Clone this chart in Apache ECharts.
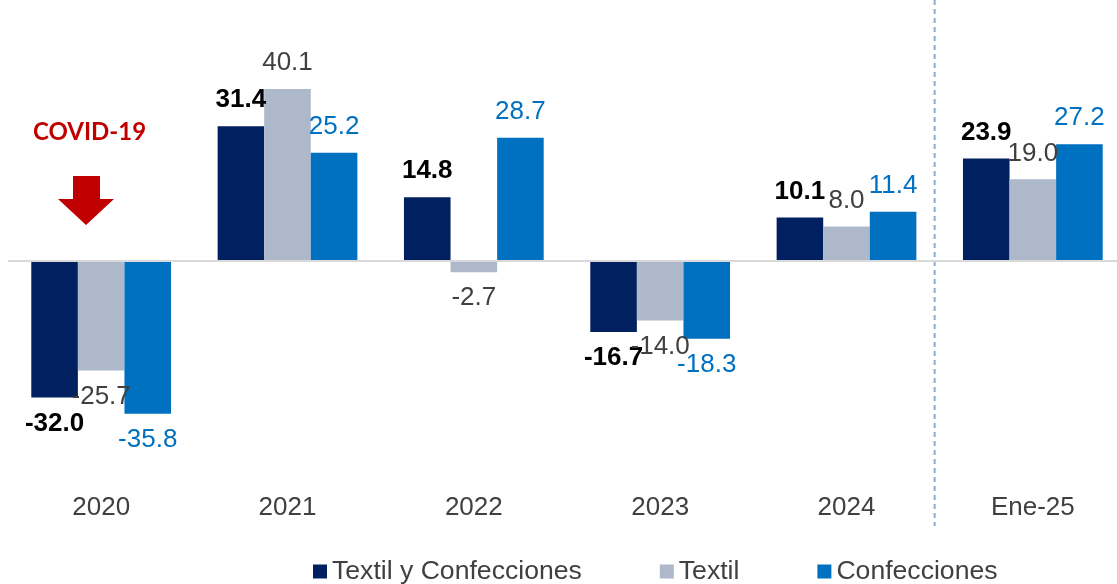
<!DOCTYPE html>
<html>
<head>
<meta charset="utf-8">
<script src="https://cdn.jsdelivr.net/npm/echarts@6/dist/echarts.min.js"></script>
<style>
  html, body { margin: 0; padding: 0; background: #fff; }
  #chart { width: 1117px; height: 584px; }
</style>
</head>
<body>
<div id="chart"></div>
<script>
const categories = ['2020', '2021', '2022', '2023', '2024', 'Ene-25']
const textilConfecciones = [-32.0, 31.4, 14.8, -16.7, 10.1, 23.9]
const textil = [-25.7, 40.1, -2.7, -14.0, 8.0, 19.0]
const confecciones = [-35.8, 25.2, 28.7, -18.3, 11.4, 27.2]

const FONT = '"Liberation Sans", Arial, sans-serif'

const withLabelSide = arr => arr.map(v => ({
  value: v,
  label: { position: v < 0 ? 'bottom' : 'top' }
}))

const makeSeries = (name, data, color, labelColor, bold) => ({
  name,
  type: 'bar',
  data: withLabelSide(data),
  barGap: '0%',
  barCategoryGap: '25%',
  itemStyle: { color },
  label: {
    show: true,
    distance: 13,
    color: labelColor,
    fontSize: 26,
    fontWeight: bold ? 'bold' : 'normal',
    fontFamily: FONT,
    formatter: p => p.value.toFixed(1)
  }
})

const chart = echarts.init(document.getElementById('chart'))

const series = [
  makeSeries('Textil y Confecciones', textilConfecciones, '#002060', '#000000', true),
  makeSeries('Textil', textil, '#ADB9CA', '#404040', false),
  makeSeries('Confecciones', confecciones, '#0070C0', '#0070C0', false)
]
series[0].markLine = {
  silent: true,
  symbol: 'none',
  label: { show: false },
  lineStyle: { color: '#D9D9D9', width: 2, type: 'solid' },
  data: [{ yAxis: 0 }]
}

chart.setOption({
  animation: false,
  grid: { left: 8, width: 1118, top: 4, height: 479, outerBoundsMode: 'none', containLabel: false },
  xAxis: {
    type: 'category',
    data: categories,
    axisLine: { show: false },
    axisTick: { show: false },
    axisLabel: { color: '#404040', fontSize: 26, fontFamily: FONT, margin: 12 }
  },
  yAxis: {
    type: 'value',
    min: -52,
    max: 60,
    show: false,
    splitLine: { show: false }
  },
  legend: {
    top: 553,
    left: 308,
    itemWidth: 14,
    itemHeight: 14,
    itemGap: 78,
    icon: 'rect',
    textStyle: { color: '#404040', fontSize: 26.6, fontFamily: FONT }
  },
  series
})

// divider between 2024 and Ene-25, plus COVID note
const xa = chart.convertToPixel({ xAxisIndex: 0 }, '2024')
const xb = chart.convertToPixel({ xAxisIndex: 0 }, 'Ene-25')
const xd = (xa + xb) / 2 - 5

chart.setOption({
  graphic: [
    {
      type: 'line',
      shape: { x1: xd, y1: 0, x2: xd, y2: 526 },
      style: { stroke: '#8FAADC', lineWidth: 2, lineDash: [5, 4] },
      silent: true
    },
    {
      type: 'text',
      left: 33,
      top: 120,
      style: {
        text: 'COVID-19',
        fill: '#C00000',
        font: 'bold 24px Lato, "Open Sans", sans-serif'
      }
    },
    {
      type: 'polygon',
      shape: {
        points: [[73, 176], [100, 176], [100, 199], [114, 199], [86, 225], [58, 199], [73, 199]]
      },
      style: { fill: '#C00000' },
      silent: true
    }
  ]
})
</script>
</body>
</html>
